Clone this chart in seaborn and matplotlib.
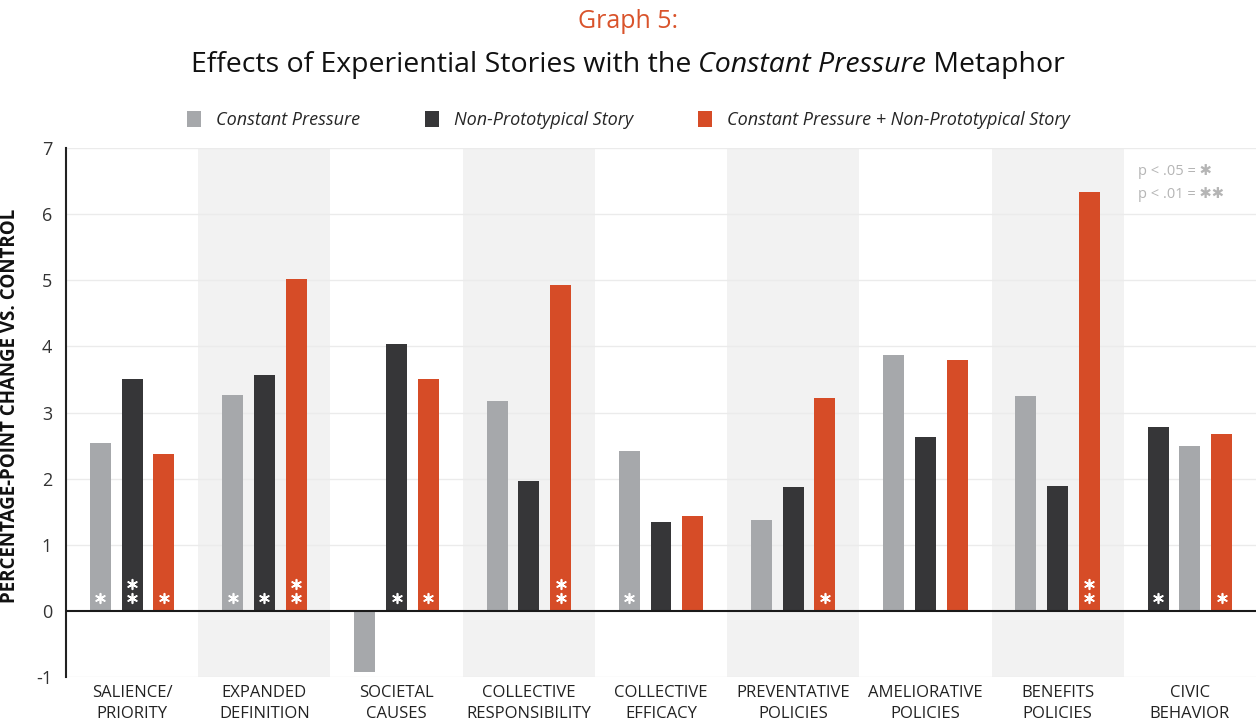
import matplotlib
matplotlib.use("Agg")
import matplotlib.pyplot as plt
import seaborn as sns
import pandas as pd
from matplotlib.patches import Patch

# ---- data ----
categories = ["SALIENCE/\nPRIORITY", "EXPANDED\nDEFINITION", "SOCIETAL\nCAUSES",
              "COLLECTIVE\nRESPONSIBILITY", "COLLECTIVE\nEFFICACY", "PREVENTATIVE\nPOLICIES",
              "AMELIORATIVE\nPOLICIES", "BENEFITS\nPOLICIES", "CIVIC\nBEHAVIOR"]
series_names = ["Constant Pressure", "Non-Prototypical Story",
                "Constant Pressure + Non-Prototypical Story"]
constant_pressure = [2.54, 3.27, -0.92, 3.18, 2.42, 1.38, 3.87, 3.25, 2.49]
non_prototypical = [3.51, 3.57, 4.04, 1.97, 1.34, 1.87, 2.63, 1.89, 2.78]
combined = [2.37, 5.02, 3.51, 4.93, 1.44, 3.22, 3.79, 6.33, 2.68]
# significance stars (0 none, 1 = p<.05, 2 = p<.01)
sig_constant = [1, 1, 0, 0, 1, 0, 0, 0, 0]
sig_nonproto = [2, 1, 1, 0, 0, 0, 0, 0, 1]
sig_combined = [1, 2, 1, 2, 0, 1, 0, 2, 1]
# order of the three series within each group (index into series_names)
slot_order = [[0, 1, 2]] * 8 + [[1, 0, 2]]
yticks = [-1, 0, 1, 2, 3, 4, 5, 6, 7]

colors = ["#a6a8ab", "#363638", "#d64c27"]
ORANGE = "#d9532b"

values = [constant_pressure, non_prototypical, combined]
sigs = [sig_constant, sig_nonproto, sig_combined]
rows = []
for ci, cat in enumerate(categories):
    for slot, si in enumerate(slot_order[ci]):
        rows.append({"category": cat, "slot": slot, "series": si,
                     "value": values[si][ci], "sig": sigs[si][ci]})
df = pd.DataFrame(rows)

sns.set_theme(style="white")
FONT = ["Open Sans", "DejaVu Sans"]
plt.rcParams["font.family"] = FONT

fig = plt.figure(figsize=(12.56, 7.26), dpi=100)
ax = fig.add_axes([66 / 1256, 1 - 677 / 726, 1 - 66 / 1256, (677 - 148) / 726])

# alternating background bands
for i in range(len(categories)):
    if i % 2 == 1:
        ax.axvspan(i - 0.5, i + 0.5, color="#f2f2f2", zorder=0, lw=0)
for t in yticks:
    if t != 0:
        ax.axhline(t, color="#ebebeb", lw=1, zorder=0.5)

sns.barplot(data=df, x="category", y="value", hue="slot", order=categories,
            dodge=True, width=0.72, gap=0.34, legend=False, ax=ax,
            palette=["#888888"] * 3, saturation=1, errorbar=None, zorder=2)

# recolor bars and add significance stars
star_x, star_y = [], []
for slot, cont in enumerate(ax.containers):
    for ci, bar in enumerate(cont.patches):
        si = slot_order[ci][slot]
        bar.set_facecolor(colors[si])
        bar.set_edgecolor("none")
        n = sigs[si][ci]
        cx = bar.get_x() + bar.get_width() / 2
        for k in range(n):
            star_x.append(cx)
            star_y.append(0.2 + 0.21 * k)
ax.scatter(star_x, star_y, marker=(6, 2, 0), s=48, color="white", linewidths=1.2,
           zorder=5)

ax.axhline(0, color="#1a1a1a", lw=1.5, zorder=3)
ax.set_xlim(-0.5, len(categories) - 0.5)
ax.set_ylim(-1, 7)
ax.set_yticks(yticks)
ax.set_yticklabels([str(t) for t in yticks], fontsize=13, color="#333333")
ax.tick_params(axis="y", length=0, pad=10)
ax.tick_params(axis="x", length=0, pad=6)
ax.set_xticklabels(categories, fontsize=12, color="#222222", linespacing=1.4)
ax.set_xlabel("")
ax.set_ylabel("PERCENTAGE-POINT CHANGE VS. CONTROL", fontsize=13.5, fontweight="bold",
              color="#111111")
ax.yaxis.set_label_coords(-0.039, (677 - 406) / (677 - 148))
for s in ["top", "right", "bottom"]:
    ax.spines[s].set_visible(False)
ax.spines["left"].set_color("#222222")
ax.spines["left"].set_linewidth(1.5)

# p-value key
ax.text(0.901, 0.956, "p < .05 = ✱", transform=ax.transAxes, fontsize=10.5,
        color="#b5b5b5", ha="left", va="center", family=FONT)
ax.text(0.901, 0.912, "p < .01 = ✱✱", transform=ax.transAxes, fontsize=10.5,
        color="#b5b5b5", ha="left", va="center", family=FONT)

# titles
fig.text(0.5, 1 - 22 / 726, "Graph 5:", ha="center", va="center", fontsize=18,
         color=ORANGE)

def mixed_title(pieces, y, size):
    renderer = fig.canvas.get_renderer()
    texts = []
    widths = []
    for s, style in pieces:
        t = fig.text(0, y, s, fontsize=size, style=style, ha="left", va="center",
                     color="#111111")
        bb = t.get_window_extent(renderer)
        texts.append(t)
        widths.append(bb.width)
    total = sum(widths)
    x = (fig.bbox.width - total) / 2
    for t, w in zip(texts, widths):
        t.set_x(x / fig.bbox.width)
        x += w

mixed_title([("Effects of Experiential Stories with the ", "normal"),
             ("Constant Pressure", "italic"), (" Metaphor", "normal")],
            1 - 65 / 726, 20.5)

handles = [Patch(facecolor=c, edgecolor="none") for c in colors]
fig.legend(handles, series_names, loc="center", bbox_to_anchor=(0.5, 1 - 120 / 726),
           ncol=3, frameon=False, prop={"style": "italic", "size": 13},
           handlelength=0.8, handleheight=1.0, columnspacing=3.6, handletextpad=0.8)

fig.savefig("out.png", dpi=100)
